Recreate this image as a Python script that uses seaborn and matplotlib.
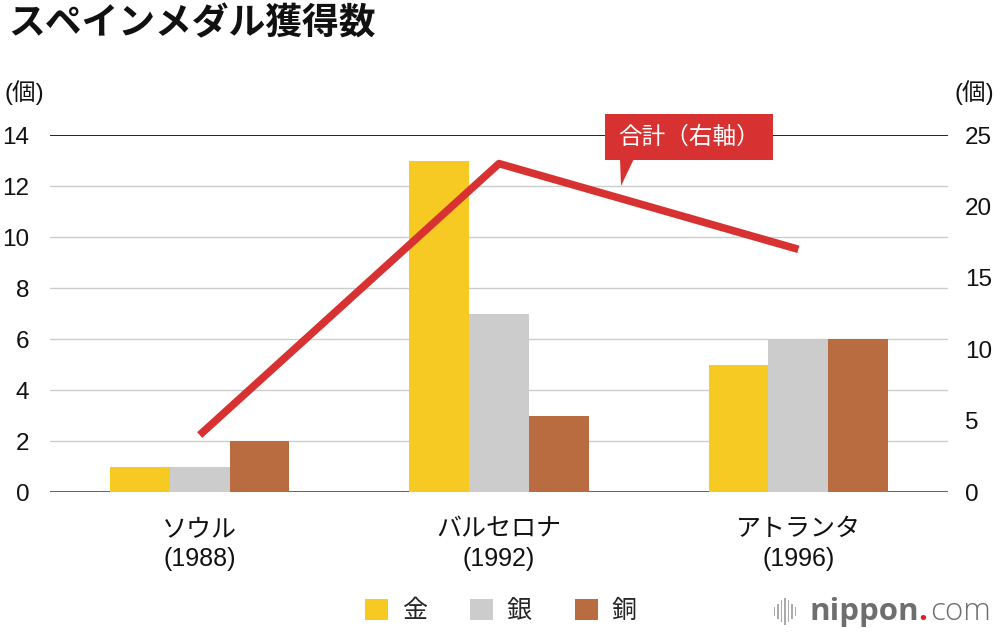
import matplotlib
matplotlib.use("Agg")
import matplotlib.pyplot as plt
import seaborn as sns
import pandas as pd
from matplotlib.patches import Polygon, Rectangle

categories = ["ソウル\n(1988)", "バルセロナ\n(1992)", "アトランタ\n(1996)"]
medal_types = ["金", "銀", "銅"]
gold = [1, 13, 5]
silver = [1, 7, 6]
bronze = [2, 3, 6]
total = [4, 23, 17]
left_ticks = [0, 2, 4, 6, 8, 10, 12, 14]
right_ticks = [0, 5, 10, 15, 20, 25]

colors = {"金": "#f7c923", "銀": "#cccccc", "銅": "#b86c3f"}
red = "#d83131"

sns.set_theme(style="white")
plt.rcParams["font.family"] = ["Liberation Sans", "Noto Sans CJK JP"]

rows = []
for i, c in enumerate(categories):
    rows.append({"cat": c, "medal": "金", "count": gold[i]})
    rows.append({"cat": c, "medal": "銀", "count": silver[i]})
    rows.append({"cat": c, "medal": "銅", "count": bronze[i]})
df = pd.DataFrame(rows)

fig = plt.figure(figsize=(10, 6.4), dpi=100)
ax = fig.add_axes([0.05, 0.231, 0.898, 0.558])

sns.barplot(data=df, x="cat", y="count", hue="medal", hue_order=medal_types,
            palette=colors, width=0.6, gap=0, ax=ax, legend=True, saturation=1,
            linewidth=0)

ax.set_xlim(-0.5, 2.5)
ax.set_ylim(0, 14)
ax.set_yticks(left_ticks)
ax.set_xlabel("")
ax.set_ylabel("")
for y in left_ticks:
    if y == 14:
        ax.axhline(y, color="#111111", lw=1.3, zorder=0)
    elif y == 0:
        ax.axhline(y, color="#555555", lw=1.3, zorder=0)
    else:
        ax.axhline(y, color="#cccccc", lw=1.0, zorder=0)
for s in ax.spines.values():
    s.set_visible(False)
ax.tick_params(axis="y", length=0, labelsize=17.5, pad=15, colors="#111111")
ax.tick_params(axis="x", length=0, labelsize=18, pad=18, colors="#111111")
for lbl in ax.get_xticklabels():
    lbl.set_linespacing(1.3)

handles, labels = ax.get_legend_handles_labels()
ax.get_legend().remove()

ax2 = ax.twinx()
line_df = pd.DataFrame({"x": [0, 1, 2], "total": total})
sns.lineplot(data=line_df, x="x", y="total", color=red, lw=5.5, ax=ax2,
             solid_capstyle="butt")
ax2.set_ylim(0, 25)
ax2.set_yticks(right_ticks)
ax2.set_ylabel("")
ax2.set_xlim(-0.5, 2.5)
for s in ax2.spines.values():
    s.set_visible(False)
ax2.tick_params(axis="y", length=0, labelsize=17.5, pad=12, colors="#111111")

# titles and unit labels
fig.text(0.008, 0.962, "スペインメダル獲得数", fontsize=26.5, fontweight="bold",
         ha="left", va="center", color="#111111")
fig.text(0.004, 0.856, "(個)", fontsize=17, ha="left", va="center", color="#111111")
fig.text(0.994, 0.856, "(個)", fontsize=17, ha="right", va="center", color="#111111")

# callout
bx0, bx1 = 0.605, 0.773
by0, by1 = 1 - 160 / 640, 1 - 114 / 640
fig.patches.append(Rectangle((bx0, by0), bx1 - bx0, by1 - by0, transform=fig.transFigure,
                             facecolor=red, edgecolor="none", zorder=5))
fig.patches.append(Polygon([(0.620, by0 + 0.002), (0.634, by0 + 0.002), (0.621, 1 - 186 / 640)],
                           closed=True, transform=fig.transFigure, facecolor=red,
                           edgecolor="none", zorder=5))
fig.text((bx0 + bx1) / 2, (by0 + by1) / 2, "合計（右軸）", fontsize=17, color="white",
         ha="center", va="center", zorder=6, family="Noto Sans CJK JP")

# legend
leg = fig.legend(handles, labels, loc="center", bbox_to_anchor=(0.501, 0.045), ncol=3,
                 frameon=False, fontsize=18, handlelength=0.9, handleheight=0.9,
                 handletextpad=0.55, columnspacing=1.75)

# logo
fig.text(0.810, 0.043, "nippon", fontsize=22.5, fontweight="bold", color="#6e6e6e",
         ha="left", va="center", family="Open Sans")
fig.text(0.918, 0.043, ".", fontsize=22.5, color="#e41e1e", ha="left", va="center",
         family="Open Sans", fontweight="bold")
fig.text(0.930, 0.043, "com", fontsize=22.5, color="#6e6e6e", ha="left", va="center",
         family="Open Sans", fontweight="light")
for i, h in enumerate([0.014, 0.024, 0.034, 0.042, 0.034, 0.024, 0.014]):
    fig.patches.append(Rectangle((0.7735 + i * 0.0035, 0.045 - h / 2), 0.0016, h,
                                 transform=fig.transFigure, facecolor="#aaaaaa",
                                 edgecolor="none"))

fig.savefig("out.png", dpi=100)
